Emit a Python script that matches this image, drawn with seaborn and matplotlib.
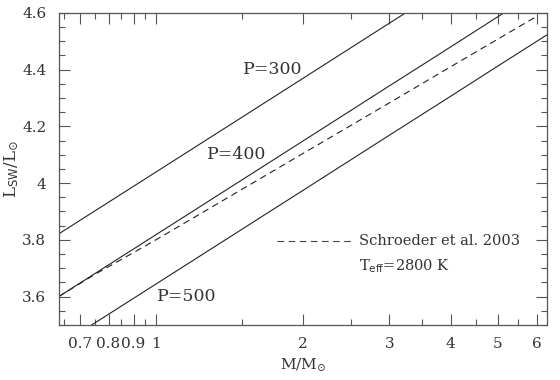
import numpy as np
import pandas as pd
import matplotlib
matplotlib.use("Agg")
import matplotlib.pyplot as plt
import seaborn as sns
from matplotlib.ticker import FixedLocator, NullFormatter, MultipleLocator, FuncFormatter

# masses (M/Msun) and log luminosities
mass = [0.633, 1.0, 2.0, 3.0, 4.0, 5.0, 6.3]
p300 = [3.821, 4.039, 4.370, 4.564, 4.701, 4.808, 4.918]
p400 = [3.600, 3.818, 4.149, 4.343, 4.480, 4.587, 4.697]
p500 = [3.426, 3.644, 3.975, 4.169, 4.306, 4.413, 4.523]
mass_s = [0.633, 0.75, 1.0, 2.0, 3.0, 4.0, 5.0, 6.0]
schroeder = [3.600, 3.678, 3.800, 4.105, 4.283, 4.410, 4.508, 4.588]

sns.set_style("ticks")
plt.rcParams["font.family"] = ["DejaVu Serif"]
plt.rcParams["mathtext.fontset"] = "dejavuserif"

fig = plt.figure(figsize=(5.6, 3.8), dpi=100)
ax = fig.add_axes([0.105, 0.145, 0.872, 0.821])

df = pd.DataFrame({"M": mass * 3, "L": p300 + p400 + p500,
                   "P": ["300"] * 7 + ["400"] * 7 + ["500"] * 7})
sns.lineplot(data=df, x="M", y="L", units="P", estimator=None,
             color="#222222", lw=0.8, ax=ax)
sns.lineplot(x=mass_s, y=schroeder, color="#222222", lw=0.8,
             ax=ax, linestyle=(0, (6, 4)))

ax.set_xscale("log")
ax.set_xlim(0.633, 6.3)
ax.set_ylim(3.5, 4.6)

major = [0.7, 0.8, 0.9, 1, 2, 3, 4, 5, 6]
minor = [0.65, 0.75, 0.85, 0.95, 1.5, 2.5, 3.5, 4.5, 5.5]
ax.xaxis.set_major_locator(FixedLocator(major))
ax.xaxis.set_minor_locator(FixedLocator(minor))
ax.xaxis.set_major_formatter(FuncFormatter(lambda v, p: f"{v:g}"))
ax.xaxis.set_minor_formatter(NullFormatter())
ax.yaxis.set_major_locator(MultipleLocator(0.2))
ax.yaxis.set_minor_locator(MultipleLocator(0.05))
ax.yaxis.set_major_formatter(FuncFormatter(lambda v, p: f"{v:g}"))

ax.tick_params(which="both", direction="in", top=True, right=True,
               color="#555555", labelsize=11, labelcolor="#333333")
ax.tick_params(which="major", length=8, width=0.8, pad=9)
ax.tick_params(which="minor", length=4, width=0.8)
for s in ax.spines.values():
    s.set_color("#555555")
    s.set_linewidth(0.9)

ax.set_xlabel(r"M/M$_{\odot}$", fontsize=11, color="#333333", labelpad=4)
ax.set_ylabel(r"L$_{\mathsf{SW}}$/L$_{\odot}$", fontsize=12, color="#333333", labelpad=1)

ax.text(1.73, 4.40, "P=300", fontsize=12.5, color="#333333", ha="center", va="center")
ax.text(1.465, 4.10, "P=400", fontsize=12.5, color="#333333", ha="center", va="center")
ax.text(1.157, 3.599, "P=500", fontsize=12.5, color="#333333", ha="center", va="center")

ax.plot([1.77, 2.52], [3.796, 3.796], color="#444444", lw=0.8, linestyle=(0, (6, 4)))
ax.text(2.60, 3.796, "Schroeder et al. 2003", fontsize=10.5, color="#333333",
        ha="left", va="center")
ax.text(2.60, 3.705, r"T$_{\mathsf{eff}}$=2800 K", fontsize=10.5, color="#333333",
        ha="left", va="center")

sns.despine(ax=ax, top=False, right=False)
fig.savefig("out.png", dpi=100)
